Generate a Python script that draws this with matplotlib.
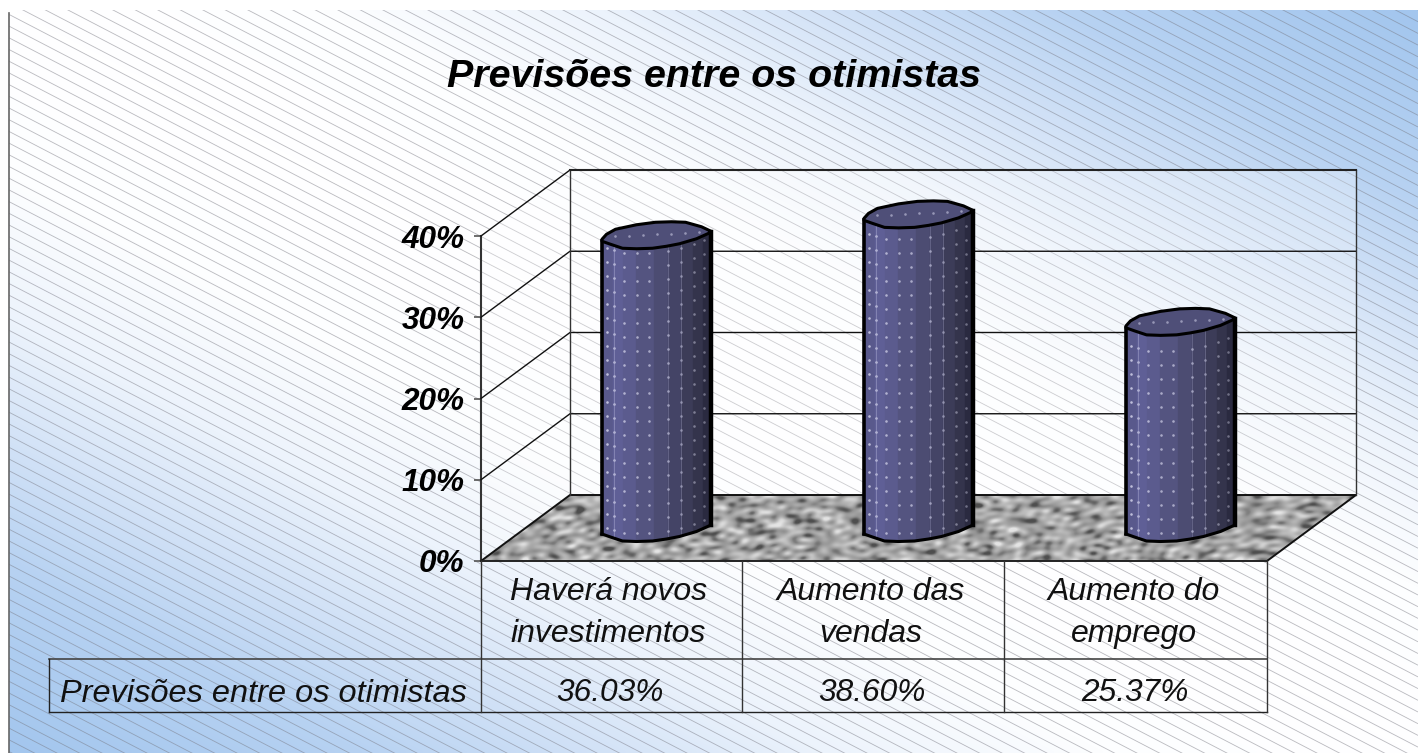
import numpy as np
import matplotlib
matplotlib.use("Agg")
import matplotlib.pyplot as plt
from matplotlib.collections import LineCollection
from matplotlib.colors import LinearSegmentedColormap
from matplotlib.patches import Polygon
from matplotlib.transforms import Affine2D

# ---- data ----
title = "Previsões entre os otimistas"
categories = ["Haverá novos\ninvestimentos", "Aumento das\nvendas", "Aumento do\nemprego"]
values = [36.03, 38.60, 25.37]
value_labels = ["36.03%", "38.60%", "25.37%"]
y_ticks = [0, 10, 20, 30, 40]
series_name = "Previsões entre os otimistas"

W, H = 1418, 753
FONT = "Liberation Sans"
fig = plt.figure(figsize=(W / 100, H / 100), dpi=100, facecolor="white")
px = Affine2D().scale(1, -1).translate(0, H)  # pixel coords, y down

# ---- background ----
bg = fig.add_axes([0, 0, 1, 1], zorder=0)
bg.set_xlim(0, W)
bg.set_ylim(H, 0)
bg.axis("off")
L, T = 9, 10
gx, gy = np.meshgrid(np.linspace(0, 1, 300), np.linspace(0, 1, 200))
grad = np.abs(gx - gy)
cmap = LinearSegmentedColormap.from_list(
    "bg", [(0, "#ffffff"), (0.22, "#fdfeff"), (0.42, "#ecf3fc"), (0.6, "#cfe0f6"), (0.75, "#b7d2f2"), (1, "#a3c6ee")])
bg.imshow(grad, extent=(L, W, H, T), cmap=cmap, vmin=0, vmax=1, aspect="auto", zorder=1, interpolation="bilinear")
slope = 0.52
step = 11.7
offs = np.arange(T - slope * W, H + step, step)
segs = [[(L, o + slope * L), (W, o + slope * W)] for o in offs]
hatch = LineCollection(segs, colors="#75757f", linewidths=0.6, alpha=0.5, zorder=2)
bg.add_collection(hatch)
hatch.set_clip_path(Polygon([(L, T), (W, T), (W, H), (L, H)], transform=bg.transData))
bg.plot([L, L], [T + 3, H], color="#666666", lw=1.2, zorder=3)

# ---- main axes: front plane of the 3-D box ----
X0, X1, Y0, Y40 = 481, 1267, 561, 236
ax = fig.add_axes([X0 / W, 1 - Y0 / H, (X1 - X0) / W, (Y0 - Y40) / H], zorder=2)
ax.set_xlim(0, 3)
ax.set_ylim(0, 40)
ax.patch.set_alpha(0)
for s in ("top", "right", "bottom"):
    ax.spines[s].set_visible(False)
ax.spines["left"].set_color("#333333")
ax.spines["left"].set_linewidth(1.5)
ax.set_xticks([])
ax.set_yticks(y_ticks)
ax.set_yticklabels([f"{t}%" for t in y_ticks], fontfamily=FONT, fontstyle="italic", fontweight="bold", fontsize=22.7)
ax.tick_params(axis="y", length=5, width=1.2, color="#555555", pad=7)

DX, DY = 89, -66  # depth offset of the back wall (pixels)


def to_px(x, v):
    d = ax.transData.transform((x, v))
    return d[0], H - d[1]


fx0, fy0 = to_px(0, 0)
fx1, _ = to_px(3, 0)
_, fy40 = to_px(0, 40)

# walls
ax.add_patch(Polygon([(fx0 + DX, fy0 + DY), (fx1 + DX, fy0 + DY), (fx1 + DX, fy40 + DY), (fx0 + DX, fy40 + DY)],
                     transform=px, fc="white", ec="none", alpha=0.28, clip_on=False, zorder=1))
ax.add_patch(Polygon([(fx0, fy0), (fx0 + DX, fy0 + DY), (fx0 + DX, fy40 + DY), (fx0, fy40)],
                     transform=px, fc="white", ec="none", alpha=0.28, clip_on=False, zorder=1))

# marble floor (deterministic mottling), drawn on the full-figure axes
nx, ny = 880, 70
xx, yy = np.meshgrid(np.arange(nx), np.arange(ny))
noise = np.zeros_like(xx, dtype=float)
for i in range(1, 160):
    a = i * 2.39996
    f = 0.1 + 0.45 * ((i * 0.618034) % 1)
    noise += np.sin(f * (np.cos(a) * xx + 1.9 * np.sin(a) * yy) + i * i * 0.7) / (0.35 + f)
noise = noise / noise.std()
marble = LinearSegmentedColormap.from_list("m", ["#4e4e4e", "#939393", "#b8b8b8", "#e4e4e4"])
im = bg.imshow(noise, extent=(fx0, fx0 + nx, fy0, fy0 + DY), cmap=marble, vmin=-2.4, vmax=2.6, aspect="auto",
               zorder=4, interpolation="bilinear")
im.set_clip_path(Polygon([(fx0, fy0), (fx0 + DX, fy0 + DY), (fx1 + DX, fy0 + DY), (fx1, fy0)], transform=bg.transData))
bg.set_xlim(0, W)
bg.set_ylim(H, 0)

# wall and grid lines
for t in y_ticks[1:]:
    _, y = to_px(0, t)
    ax.plot([fx0, fx0 + DX, fx1 + DX], [y, y + DY, y + DY], transform=px, color="#111111", lw=1.0, clip_on=False, zorder=3)
ax.plot([fx0, fx0 + DX, fx1 + DX, fx1], [fy0, fy0 + DY, fy0 + DY, fy0], transform=px, color="#111111", lw=1.4, clip_on=False, zorder=3)
ax.plot([fx0 + DX, fx0 + DX], [fy0 + DY, fy40 + DY], transform=px, color="#333333", lw=1.0, clip_on=False, zorder=3)
ax.plot([fx1 + DX, fx1 + DX], [fy0 + DY, fy40 + DY], transform=px, color="#333333", lw=1.0, clip_on=False, zorder=3)
ax.plot([fx0 + DX, fx1 + DX], [fy40 + DY, fy40 + DY], transform=px, color="#222222", lw=1.5, clip_on=False, zorder=3)

# ---- cylinders ----
R = 54.5
front_x = [-54.5, -46, -34, -20, -4, 10, 23, 40, 54.5]
front_y = [6, 9, 13, 13.5, 13, 11, 8.5, 3.5, -3]
back_x = [-54.5, -50, -41, -20, -1, 15, 29, 45, 54.5]
back_y = [4, -1, -6, -10.5, -13, -13.5, -13, -8.5, -4]
edges = np.array([-54.5, -43.5, -33.5, -20.5, -2.5, 11.5, 24.5, 36.5, 46.5, 54.5])
strip_cols = ["#59598c", "#5f5f96", "#5b5b8e", "#545480", "#4c4c72", "#444466", "#3c3c58", "#34344c", "#2a2a40"]
dot_x = [-49.5, -42.5, -32.5, -19.5, -7.5, 11.5, 24.5, 37.5, 47.5]
dot_alpha = [0.8, 0.75, 0.7, 0.65, 0.65, 0.6, 0.5, 0.45, 0.4]


def front(u):
    return np.interp(u, front_x, front_y)


for i, v in enumerate(values):
    cx, ytop = to_px(i + 0.5, v)
    _, ybase = to_px(i + 0.5, 0)
    cx += DX / 2
    ytop += DY / 2
    ybase += DY / 2
    # side strips, with the front curve's corners kept in each strip
    for j, c in enumerate(strip_cols):
        e0, e1 = edges[j], edges[j + 1]
        es = np.array([e0] + [f for f in front_x if e0 < f < e1] + [e1])
        poly = [(cx + e, ytop + front(e)) for e in es] + [(cx + e, ybase + front(e)) for e in es[::-1]]
        ax.add_patch(Polygon(poly, transform=px, fc=c, ec=c, lw=0.3, clip_on=False, zorder=5))
    # dots on side
    for ex, al in zip(dot_x, dot_alpha):
        ys = np.arange(ybase + front(ex) - 8, ytop + front(ex) + 3, -14)
        ax.scatter([cx + ex] * len(ys), ys, s=3.5, c="#d8d8ee", alpha=al, lw=0, transform=px, clip_on=False, zorder=6)
    for ex, al in ((-42.5, 0.5), (11.5, 0.3), (24.5, 0.35)):
        ax.plot([cx + ex, cx + ex], [ytop + front(ex), ybase + front(ex)], transform=px,
                color="#a9a9cf", lw=0.7, alpha=al, clip_on=False, zorder=6)
    # outline of the side
    ax.plot([cx + e for e in front_x], [ybase + y for y in front_y], transform=px, color="black", lw=2.2,
            clip_on=False, zorder=7, solid_joinstyle="round")
    ax.plot([cx - R, cx - R], [ytop + front(-R), ybase + front(-R)], transform=px, color="black", lw=2.6, clip_on=False, zorder=7)
    ax.plot([cx + R, cx + R], [ytop + front(R), ybase + front(R)], transform=px, color="black", lw=3.2, clip_on=False, zorder=7)
    # top
    top = [(cx + x, ytop + y) for x, y in zip(front_x, front_y)] + [(cx + x, ytop + y) for x, y in zip(back_x[::-1], back_y[::-1])]
    ax.add_patch(Polygon(top, transform=px, fc="#4f4f78", ec="black", lw=2.2, joinstyle="round", clip_on=False, zorder=8))
    tx = np.arange(-42, 44, 14)
    ax.scatter(cx + tx, ytop - 2.5 * (tx / R) - 1, s=3.5, c="#c8c8e0", alpha=0.6, lw=0, transform=px,
               clip_on=False, zorder=9)

# ---- data table ----
TBL_L, ROW0, ROW1, ROW2 = 49, 561, 659, 712
col_nudge = [0, -1.5, -1, 0]
cols = [to_px(k, 0)[0] + col_nudge[k] for k in range(4)]
tc = "#222222"
ax.plot([cols[0], cols[3]], [ROW0, ROW0], transform=px, color=tc, lw=1.4, clip_on=False, zorder=4)
ax.plot([TBL_L, cols[3]], [ROW1, ROW1], transform=px, color="#444444", lw=1.2, clip_on=False, zorder=4)
ax.plot([TBL_L, cols[3]], [ROW2, ROW2], transform=px, color=tc, lw=1.0, clip_on=False, zorder=4)
ax.plot([TBL_L, TBL_L], [ROW1, ROW2], transform=px, color=tc, lw=1.0, clip_on=False, zorder=4)
for c in cols:
    ax.plot([c, c], [ROW0, ROW2], transform=px, color="#333333", lw=1.0, clip_on=False, zorder=4)
tkw = dict(transform=px, fontfamily=FONT, fontstyle="italic", color="#111111", clip_on=False, zorder=10)
shift = [-3, -2, -2]
for k, (cat, vl) in enumerate(zip(categories, value_labels)):
    mid = (cols[k] + cols[k + 1]) / 2
    ax.text(mid + shift[k], 613, cat, ha="center", va="center", fontsize=23, linespacing=1.5, **tkw)
    ax.text(mid - 1, 693, vl, ha="center", va="center", fontsize=22.8, **tkw)
ax.text(467, 694, series_name, ha="right", va="center", fontsize=23.4, **tkw)

# ---- title ----
ax.text(714, 77, title, ha="center", va="center", transform=px, fontfamily=FONT, fontstyle="italic", fontweight="bold",
        fontsize=28.4, color="black", clip_on=False, zorder=10)

fig.savefig("out.png", dpi=100, facecolor="white")
